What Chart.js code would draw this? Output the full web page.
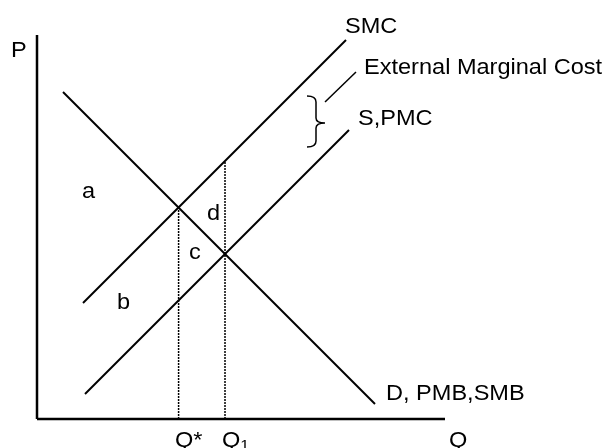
<!DOCTYPE html>
<html>
<head>
<meta charset="utf-8">
<script src="https://cdn.jsdelivr.net/npm/chart.js@4/dist/chart.umd.min.js"></script>
<style>
  html, body { margin: 0; padding: 0; background: #ffffff; }
  #wrap { width: 609px; height: 448px; }
</style>
</head>
<body>
<div id="wrap"><canvas id="c" width="609" height="448"></canvas></div>
<script>
// ---- data (arbitrary units: Q along x, P along y) ----
const axisQ = [0, 102];
const axisP = [0, 96];
const demandQ = [6.5, 84.5];
const demandP = [81.75, 3.75];
const smcQ = [11.5, 77.25];
const smcP = [29, 94.75];
const pmcQ = [12, 78];
const pmcP = [6.25, 72.25];
const qStar = 35.4;
const qStarP = 52.9;
const q1 = 47;
const q1TopP = 64.5;
const leaderQ = [72, 79.75];
const leaderP = [79.25, 86.75];
const curveLabels = ["SMC", "External Marginal Cost", "S,PMC", "D, PMB,SMB"];
const areaLabels = ["a", "b", "c", "d"];
const axisLabels = ["P", "Q", "Q*", "Q"];

function pts(xs, ys) { return xs.map((x, i) => ({ x: x, y: ys[i] })); }

const solid = { showLine: true, pointRadius: 0, borderColor: '#000', borderWidth: 2, tension: 0, clip: false, fill: false };
const dotted = Object.assign({}, solid, { borderWidth: 1.5, borderDash: [2, 1] });

const datasets = [
  Object.assign({ data: pts([axisQ[0], axisQ[0]], [axisP[0], axisP[1]]) }, solid, { borderWidth: 2.5 }),
  Object.assign({ data: pts([axisQ[0], axisQ[1]], [axisP[0], axisP[0]]) }, solid, { borderWidth: 2.5 }),
  Object.assign({ data: pts(demandQ, demandP) }, solid),
  Object.assign({ data: pts(smcQ, smcP) }, solid),
  Object.assign({ data: pts(pmcQ, pmcP) }, solid),
  Object.assign({ data: pts([qStar, qStar], [0, qStarP]) }, dotted),
  Object.assign({ data: pts([q1, q1], [0, q1TopP]) }, dotted),
  Object.assign({ data: pts(leaderQ, leaderP) }, solid, { borderWidth: 1.5 })
];

const FONT = '22px "Liberation Sans", Arial, sans-serif';
const STRETCH = 1.07;

const labelPlugin = {
  id: 'labels',
  afterDatasetsDraw(chart) {
    const ctx = chart.ctx;
    const xs = chart.scales.x, ys = chart.scales.y;
    const X = v => xs.getPixelForValue(v), Y = v => ys.getPixelForValue(v);
    function txt(s, x, y, font) {
      ctx.save();
      ctx.font = font || FONT;
      ctx.translate(x, y);
      ctx.scale(STRETCH, 1);
      ctx.fillText(s, 0, 0);
      const w = ctx.measureText(s).width * STRETCH;
      ctx.restore();
      return w;
    }
    ctx.save();
    ctx.fillStyle = '#000';
    ctx.textBaseline = 'alphabetic';
    ctx.textAlign = 'left';
    // curve labels
    txt(curveLabels[0], X(77), Y(96.5));
    txt(curveLabels[1], X(81.75), Y(86.25));
    txt(curveLabels[2], X(80.25), Y(73.5));
    txt(curveLabels[3], X(87.25), Y(4.75));
    // area labels
    txt(areaLabels[0], X(11.25), Y(55.25));
    txt(areaLabels[1], X(20), Y(27.5));
    txt(areaLabels[2], X(38), Y(40));
    txt(areaLabels[3], X(42.5), Y(49.75));
    // axis labels
    txt(axisLabels[0], X(-6.5), Y(90.5));
    txt(axisLabels[1], X(103), Y(-7));
    txt(axisLabels[2], X(34.5), Y(-7));
    const qx = X(46.25), qy = Y(-7);
    const w = txt(axisLabels[3], qx, qy);
    txt('1', qx + w, qy + 3, '15px "Liberation Sans", Arial, sans-serif');
    // brace
    const bx0 = X(67.5), bx1 = X(72), byT = Y(80.75), byB = Y(68), byM = Y(74);
    const bm = (bx0 + bx1) / 2;
    ctx.beginPath();
    ctx.lineWidth = 1.5;
    ctx.strokeStyle = '#000';
    ctx.moveTo(bx0, byT);
    ctx.quadraticCurveTo(bm, byT, bm, byT + 6);
    ctx.lineTo(bm, byM - 5);
    ctx.quadraticCurveTo(bm, byM, bx1, byM);
    ctx.quadraticCurveTo(bm, byM, bm, byM + 5);
    ctx.lineTo(bm, byB - 6);
    ctx.quadraticCurveTo(bm, byB, bx0, byB);
    ctx.stroke();
    ctx.restore();
  }
};

new Chart(document.getElementById('c'), {
  type: 'scatter',
  data: { datasets: datasets },
  options: {
    responsive: false,
    animation: false,
    devicePixelRatio: 1,
    layout: { padding: { left: 37, top: 35, right: 164, bottom: 29 } },
    plugins: { legend: { display: false }, tooltip: { enabled: false } },
    scales: {
      x: { type: 'linear', min: axisQ[0], max: axisQ[1], display: false },
      y: { type: 'linear', min: axisP[0], max: axisP[1], display: false }
    }
  },
  plugins: [labelPlugin]
});
</script>
</body>
</html>
